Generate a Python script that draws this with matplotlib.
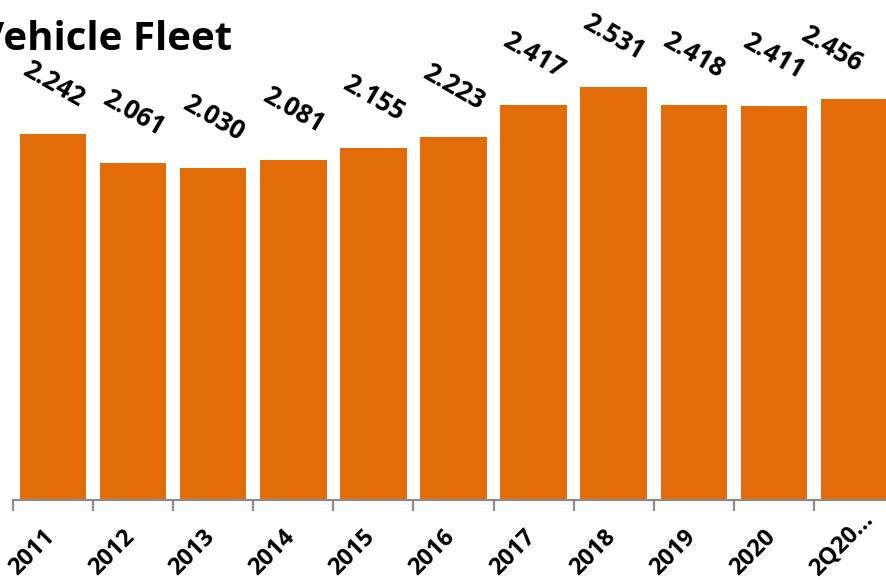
import numpy as np
import matplotlib
matplotlib.use("Agg")
import matplotlib.pyplot as plt
from matplotlib.ticker import FixedLocator
from matplotlib.transforms import ScaledTranslation

# data
categories = ["2011", "2012", "2013", "2014", "2015", "2016",
              "2017", "2018", "2019", "2020", "2Q20…"]
fleet = [2.242, 2.061, 2.030, 2.081, 2.155, 2.223,
         2.417, 2.531, 2.418, 2.411, 2.456]
value_labels = ["2.242", "2.061", "2.030", "2.081", "2.155", "2.223",
                "2.417", "2.531", "2.418", "2.411", "2.456"]

bar_color = "#E36C0A"
axis_gray = "#8C8C8C"
font = "Open Sans"

W, H = 887, 580
fig = plt.figure(figsize=(W / 100, H / 100), dpi=100)

# axes placed in pixel terms: plot area runs off the right edge like the original
ax_left, ax_right = 13, 894
ax_bottom, ax_top = 500, 10
ax = fig.add_axes([ax_left / W, (H - ax_bottom) / H,
                   (ax_right - ax_left) / W, (ax_bottom - ax_top) / H])

x = np.arange(len(categories))
ax.bar(x, fleet, width=0.83, color=bar_color, zorder=2)

ax.set_xlim(-0.5, len(categories) - 0.5)
ax.set_ylim(0, 3.0)

# value labels, rotated like the excel export
labels = []
for xi, v, lab in zip(x, fleet, value_labels):
    t = ax.annotate(lab, (xi, v), xytext=(0, 50), textcoords="offset pixels",
                    ha="center", va="center", rotation=-30,
                    fontsize=18.5, fontweight="bold", family=font, color="black",
                    zorder=3)
    labels.append(t)

# axes cosmetics
for s in ["top", "right", "left"]:
    ax.spines[s].set_visible(False)
ax.spines["bottom"].set_color(axis_gray)
ax.spines["bottom"].set_linewidth(1.6)
ax.set_yticks([])

# excel puts the slanted category labels with their lower-left start under the bar's left part
ax.set_xticks(x)
ax.set_xticklabels(categories, rotation=45, ha="left", va="baseline",
                   rotation_mode="anchor", fontsize=17, fontweight="bold",
                   family=font)
ax.tick_params(axis="x", which="major", length=0, pad=55)
shift = ScaledTranslation(-0.36, 0, fig.dpi_scale_trans)
for tl in ax.get_xticklabels():
    tl.set_transform(tl.get_transform() + shift)
ax.xaxis.set_minor_locator(FixedLocator(np.arange(-0.5, len(categories), 1.0)))
ax.tick_params(axis="x", which="minor", length=8, width=1.6, color=axis_gray)

# title, partly cut at the left edge
fig.text(232 / W, (H - 50) / H, "Vehicle Fleet", ha="right", va="baseline",
         fontsize=29, fontweight="bold", family=font, color="black")

# keep value labels inside the picture (the last one gets nudged left)
fig.canvas.draw()
r = fig.canvas.get_renderer()
for t in labels:
    bb = t.get_window_extent(r)
    over = bb.x1 - (W - 20)
    if over > 0:
        t.xyann = (t.xyann[0] - over, t.xyann[1])

fig.savefig("out.png", dpi=100)
